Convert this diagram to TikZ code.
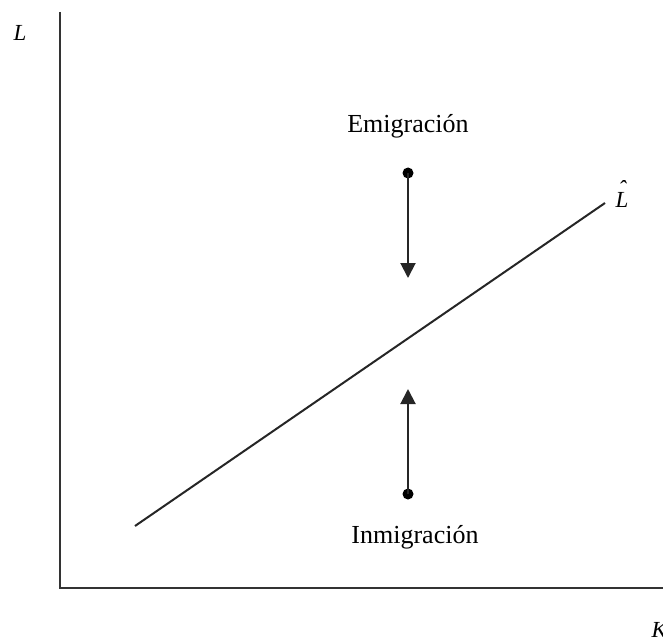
\documentclass[tikz,border=0pt]{standalone}
\usepackage{fontspec}
\setmainfont{Liberation Serif}
\usetikzlibrary{arrows.meta}
\begin{document}
\begin{tikzpicture}[x=1pt,y=-1pt,
  axis/.style={line width=2.4pt,draw=black!80},
  curve/.style={line width=2pt,draw=black!85},
  flow/.style={line width=2pt,draw=black!85,-{Triangle[length=15pt,width=15pt]}},
  dotnode/.style={circle,fill=black,inner sep=0pt,minimum size=11pt},
  lbl/.style={font=\fontsize{26}{30}\selectfont,text=black},
  axlbl/.style={font=\fontsize{23}{26}\selectfont\itshape,text=black}]
\useasboundingbox (0,0) rectangle (663,639);
\coordinate (top) at (60,12);
\coordinate (origin) at (60,588);
\coordinate (right) at (663,588);
\draw[axis] (top) -- (origin) -- (right);
\node[axlbl] (Llab) at (20,33) {L};
\node[axlbl,anchor=west] (Klab) at (648,630) {K};
\coordinate (a) at (135,526);
\coordinate (b) at (605,203);
\draw[curve] (a) -- (b);
\node[axlbl] (Lhat) at (622,194) {\rlap{\kern0.12em\raisebox{0.5em}{ˆ}}L};
\node[lbl] (emi) at (408,126) {Emigración};
\node[dotnode] (d1) at (408,173) {};
\coordinate (t1) at (408,278);
\draw[flow] (d1.center) -- (t1);
\node[dotnode] (d2) at (408,494) {};
\coordinate (t2) at (408,389);
\draw[flow] (d2.center) -- (t2);
\node[lbl] (inm) at (415,537) {Inmigración};
\end{tikzpicture}
\end{document}
